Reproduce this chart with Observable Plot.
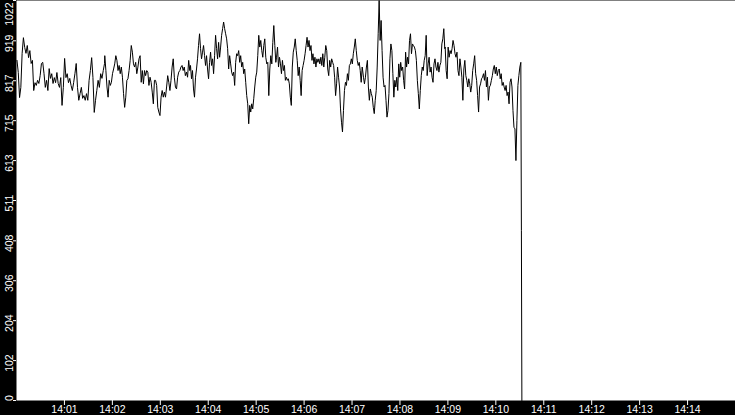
<!DOCTYPE html>
<html><head><meta charset="utf-8">
<script src="https://cdn.jsdelivr.net/npm/d3@7"></script>
<script src="https://cdn.jsdelivr.net/npm/@observablehq/plot@0.6"></script>
<style>html,body{margin:0;padding:0;background:#000;overflow:hidden}</style>
</head><body><div id="chart"></div>
<script>
const seg1 = [869, 838, 774, 800, 887, 927, 902, 887, 907, 876, 894, 861, 869, 792, 812, 805, 818, 810, 830, 861, 864, 835, 800, 818, 792, 848, 823, 835, 810, 825, 812, 838, 810, 800, 825, 754, 800, 874, 825, 835, 812, 823, 805, 792, 812, 835, 861, 800, 767, 784, 800, 772, 779, 767, 784, 767, 818, 843, 876, 825, 736, 767, 792, 818, 800, 835, 823, 843, 861];
const seg2 = [881, 843, 801, 775, 818, 805, 813, 835, 847, 860, 881, 869, 843, 856, 835, 852, 826, 784, 749, 775, 818, 822, 843, 869, 907, 890, 860, 852, 864, 835, 852, 873, 881, 813, 843, 809, 843, 830, 843, 839, 805, 826, 813, 788, 758, 818, 818, 805, 749, 737, 728, 775, 792, 775, 788, 775, 801, 830, 813, 792, 818, 852, 873, 826, 801, 796, 826, 839, 843, 852, 856, 843, 852, 830, 839, 826, 869, 843];
const seg3 = [856, 822, 843, 796, 775, 826, 847, 873, 907, 937, 899, 873, 890, 907, 881, 856, 881, 847, 822, 864, 890, 856, 873, 835, 881, 933, 899, 873, 915, 877, 903, 933, 950, 967, 950, 937, 924, 899, 847, 881, 860, 839, 830, 839, 805, 864, 886, 881, 894, 864, 881, 852, 864, 835, 847, 813, 779, 758, 707, 754, 737, 758, 745, 771, 801, 826, 839, 881, 933, 903, 920, 894, 877, 907, 924, 877, 860, 864, 779, 847, 881, 860, 915, 958, 907, 864];
const seg4 = [877, 903, 852, 877, 860, 835, 869, 843, 856, 818, 826, 818, 822, 809, 775, 754, 852, 890, 903, 924, 894, 869, 830, 852, 818, 779, 843, 856, 869, 886, 907, 928, 903, 920, 894, 907, 869, 886, 860, 877, 852, 873, 864, 873, 860, 877, 856, 886, 852, 877, 907, 894, 847, 830, 869, 852, 873, 864, 856, 826, 779, 809, 852, 826, 801, 745, 711, 686, 741, 792, 813, 805, 835, 818, 856, 860, 873, 860, 886, 903, 924, 894, 869, 856, 864, 843, 813, 852];
const seg5 = [847, 826, 809, 826, 852, 869, 801, 767, 796, 784, 775, 749, 733, 767, 792, 852, 937, 1022, 920, 971, 894, 826, 801, 805, 767, 724, 741, 784, 873, 911, 894, 835, 775, 818, 801, 826, 792, 860, 826, 864, 843, 852, 818, 796, 890, 852, 877, 860, 920, 937, 886, 911, 907, 903, 894, 869, 818, 784, 745, 792, 830, 852, 843, 869, 881, 933, 830, 860, 877, 839, 852, 826, 813, 860, 873, 852, 843, 864, 839, 856, 864, 911, 924, 950, 899];
const seg6 = [903, 843, 822, 903, 877, 894, 886, 899, 920, 907, 886, 877, 890, 843, 830, 873, 852, 826, 767, 847, 869, 830, 818, 801, 822, 809, 788, 805, 843, 860, 881, 835, 818, 779, 737, 801, 809, 822, 826, 835, 818, 843, 801, 826, 767, 801, 805, 818, 830, 847, 856, 835, 852, 830, 843, 847, 822, 835, 805, 813, 801, 792, 805, 779, 788, 758, 813, 822, 801, 741, 698, 694, 613, 715, 805, 830, 852, 864];
// seconds after 14:00:00 at which each stretch begins and ends
const segStartSec = [0.6, 110.5, 217.8, 325.5, 433.1, 536.6];
const segEndSec   = [110.2, 216.9, 324.6, 432.7, 536.1, 631.3];
// the final drop
const dropSec = [632.0, 632.6];
const dropValues = [435, 0];

const yTicks = [0, 102, 204, 306, 408, 511, 613, 715, 817, 919, 1022];
const xTickLabels = ["14:01","14:02","14:03","14:04","14:05","14:06","14:07","14:08","14:09","14:10","14:11","14:12","14:13","14:14"];
const xDomainLabels = ["14:00", "14:15"];

const toDate = (lbl) => { const [h, m] = lbl.split(":").map(Number); return new Date(Date.UTC(2000, 0, 1, h, m, 0)); };
const base = toDate("14:00").getTime();

const segs = [seg1, seg2, seg3, seg4, seg5, seg6];
const data = [];
segs.forEach((vals, k) => {
  const n = vals.length;
  vals.forEach((v, i) => {
    const s = segStartSec[k] + (segEndSec[k] - segStartSec[k]) * i / (n - 1);
    data.push({t: new Date(base + s * 1000), v});
  });
});
dropValues.forEach((v, i) => data.push({t: new Date(base + dropSec[i] * 1000), v}));

const yLabelOpts = {y: d => d, text: d => String(d), frameAnchor: "left", dx: -4, rotate: -90, lineAnchor: "bottom", fill: "white"};

const chart = Plot.plot({
  width: 735, height: 415,
  marginLeft: 16, marginRight: 0, marginTop: 0, marginBottom: 15,
  style: {background: "black", color: "white", fontFamily: "'Liberation Sans', Arial, sans-serif", fontSize: "10.5px", overflow: "visible"},
  x: {type: "utc", domain: xDomainLabels.map(toDate)},
  y: {domain: [0, 1022]},
  marks: [
    Plot.frame({fill: "white", stroke: "none"}),
    Plot.line(data, {x: "t", y: "v", stroke: "black", strokeWidth: 1}),
    Plot.axisX({ticks: xTickLabels.map(toDate), tickFormat: d3.utcFormat("%H:%M"), tickSize: 5, tickPadding: 0, label: null}),
    Plot.axisY({ticks: yTicks, tickFormat: () => "", fill: "none", tickSize: 3, label: null}),
    Plot.text(yTicks.slice(1, -1), {...yLabelOpts, textAnchor: "middle", dy: 2.5}),
    Plot.text(yTicks.slice(-1), {...yLabelOpts, textAnchor: "end", dy: 2}),
    Plot.text(yTicks.slice(0, 1), {...yLabelOpts, textAnchor: "start", dy: 0.5})
  ]
});
document.getElementById("chart").appendChild(chart);
</script>
</body></html>
